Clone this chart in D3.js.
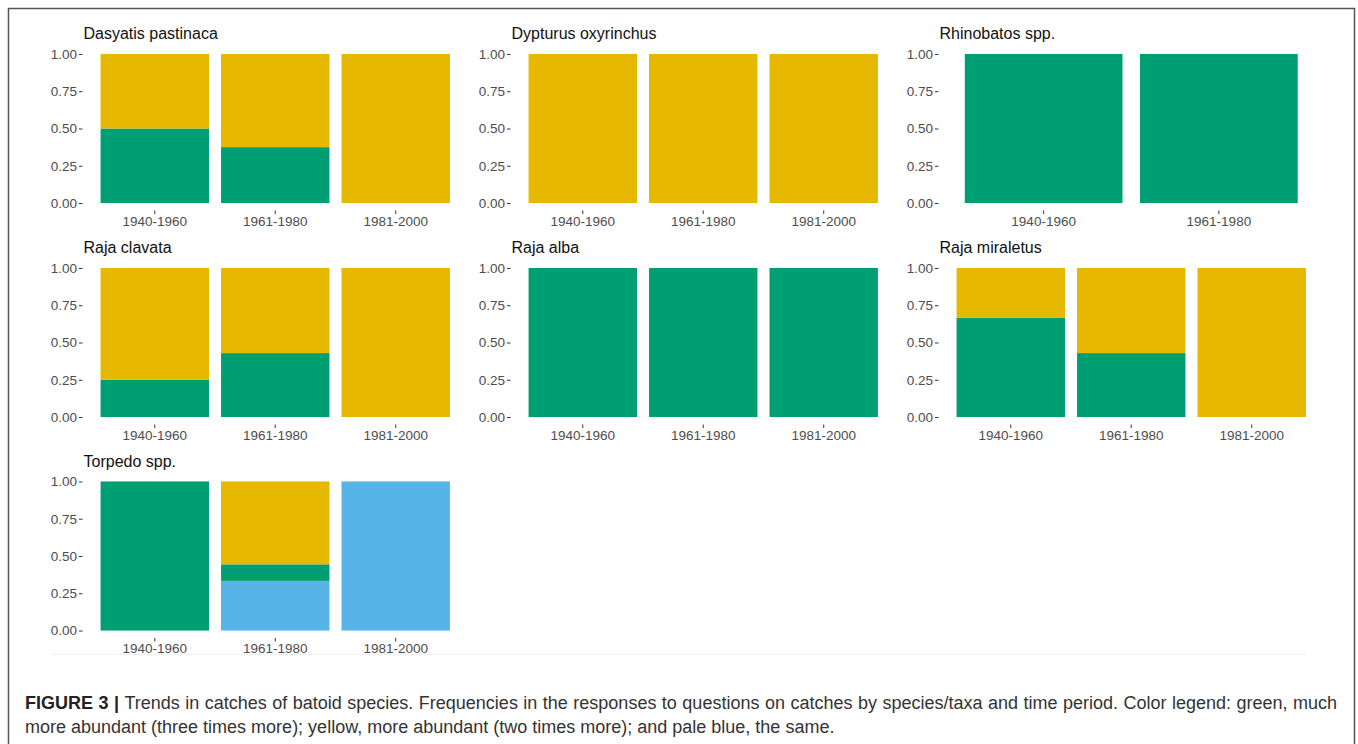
<!DOCTYPE html>
<html>
<head>
<meta charset="utf-8">
<script src="https://cdn.jsdelivr.net/npm/d3@7"></script>
<style>
  html, body { margin: 0; padding: 0; background: #fff; }
  svg { display: block; }
</style>
</head>
<body>
<svg id="fig" width="1358" height="744"></svg>
<script>
// Species (facet panels), in reading order
const species = ["Dasyatis pastinaca", "Dypturus oxyrinchus", "Rhinobatos spp.",
                 "Raja clavata", "Raja alba", "Raja miraletus", "Torpedo spp."];

// Time periods reported for each species
const periods = [
  ["1940-1960", "1961-1980", "1981-2000"],
  ["1940-1960", "1961-1980", "1981-2000"],
  ["1940-1960", "1961-1980"],
  ["1940-1960", "1961-1980", "1981-2000"],
  ["1940-1960", "1961-1980", "1981-2000"],
  ["1940-1960", "1961-1980", "1981-2000"],
  ["1940-1960", "1961-1980", "1981-2000"]
];

// Response frequencies per species and period
const sameShare = [          // pale blue: the same
  [0, 0, 0], [0, 0, 0], [0, 0], [0, 0, 0], [0, 0, 0], [0, 0, 0], [0, 0.333, 1]
];
const muchMoreShare = [      // green: much more abundant (three times more)
  [0.5, 0.375, 0], [0, 0, 0], [1, 1], [0.25, 0.429, 0], [1, 1, 1], [0.667, 0.429, 0], [1, 0.111, 0]
];
const moreShare = [          // yellow: more abundant (two times more)
  [0.5, 0.625, 1], [1, 1, 1], [0, 0], [0.75, 0.571, 1], [0, 0, 0], [0.333, 0.571, 1], [0, 0.556, 0]
];

const yTicks = [0, 0.25, 0.5, 0.75, 1];

const responseKeys = ["same", "muchMore", "more"];
const responseColors = { same: "#56B4E9", muchMore: "#009E73", more: "#E6B800" };

const captionLead = "FIGURE 3 |";
const captionLines = [
  "Trends in catches of batoid species. Frequencies in the responses to questions on catches by species/taxa and time period. Color legend: green, much",
  "more abundant (three times more); yellow, more abundant (two times more); and pale blue, the same."
];

// ---- layout ----
const svg = d3.select("#fig");
const font = "'Liberation Sans', Arial, Helvetica, sans-serif";

const colLeft = [82.5, 510.5, 938.5];
const panelW = 385.5;
const rowTop = [46.5, 260.5, 474];
const panelH = 164;

// outer frame of the figure
svg.append("path")
  .attr("d", "M8.5,760 V8.5 H1354.5 V760")
  .attr("fill", "none").attr("stroke", "#555").attr("stroke-width", 1.5);

// faint rule beneath the panel grid
svg.append("line")
  .attr("x1", 52).attr("x2", 1306).attr("y1", 654.5).attr("y2", 654.5)
  .attr("stroke", "#efefef").attr("stroke-width", 1);

species.forEach((name, i) => {
  const col = i % 3, row = Math.floor(i / 3);
  const L = colLeft[col], T = rowTop[row];
  const g = svg.append("g").attr("transform", `translate(${L},${T})`);

  const cats = periods[i];
  const x = d3.scaleBand().domain(cats).range([0, panelW])
    .paddingInner(0.1).paddingOuter(0.15);
  const y = d3.scaleLinear().domain([-0.05, 1.05]).range([panelH, 0]);

  const rows = cats.map((p, j) => ({
    period: p,
    same: sameShare[i][j],
    muchMore: muchMoreShare[i][j],
    more: moreShare[i][j]
  }));
  const stacked = d3.stack().keys(responseKeys)(rows);

  g.selectAll("g.layer").data(stacked).join("g")
    .attr("class", "layer")
    .attr("fill", d => responseColors[d.key])
    .selectAll("rect").data(d => d.filter(s => s[1] - s[0] > 0)).join("rect")
    .attr("x", d => x(d.data.period))
    .attr("width", x.bandwidth())
    .attr("y", d => y(d[1]))
    .attr("height", d => y(d[0]) - y(d[1]));

  // y axis
  const yAxis = d3.axisLeft(y).tickValues(yTicks).tickFormat(d3.format(".2f"))
    .tickSize(3.5).tickPadding(2);
  const ya = g.append("g").call(yAxis);
  ya.select(".domain").remove();
  ya.selectAll(".tick line").attr("stroke", "#333").attr("stroke-width", 1);
  ya.selectAll(".tick text").attr("fill", "#4d4d4d")
    .style("font-family", font).style("font-size", "13.5px");

  // x axis
  const xAxis = d3.axisBottom(x).tickSize(3.5).tickPadding(2);
  const xa = g.append("g").attr("transform", `translate(0,${panelH})`).call(xAxis);
  xa.select(".domain").remove();
  xa.selectAll(".tick line").attr("stroke", "#333").attr("stroke-width", 1);
  xa.selectAll(".tick text").attr("fill", "#4d4d4d")
    .style("font-family", font).style("font-size", "13.5px");

  // panel title
  g.append("text")
    .attr("x", 1).attr("y", -7.5)
    .attr("fill", "#111")
    .style("font-family", font).style("font-size", "16px")
    .text(name);
});

// ---- caption ----
const capX = 25, capRight = 1337, capSize = "18px";
const cap1 = svg.append("text")
  .attr("x", capX).attr("y", 709)
  .attr("fill", "#333")
  .style("font-family", font).style("font-size", capSize);
cap1.append("tspan").attr("font-weight", "bold").attr("fill", "#222").text(captionLead + " ");
cap1.append("tspan").text(captionLines[0]);

// justify the first caption line to the full text width
const w1 = cap1.node().getComputedTextLength();
const gaps = (captionLead + " " + captionLines[0]).split(" ").length - 1;
const extra = (capRight - capX - w1) / gaps;
cap1.attr("word-spacing", extra);

svg.append("text")
  .attr("x", capX).attr("y", 733)
  .attr("fill", "#333")
  .style("font-family", font).style("font-size", capSize)
  .text(captionLines[1]);
</script>
</body>
</html>
